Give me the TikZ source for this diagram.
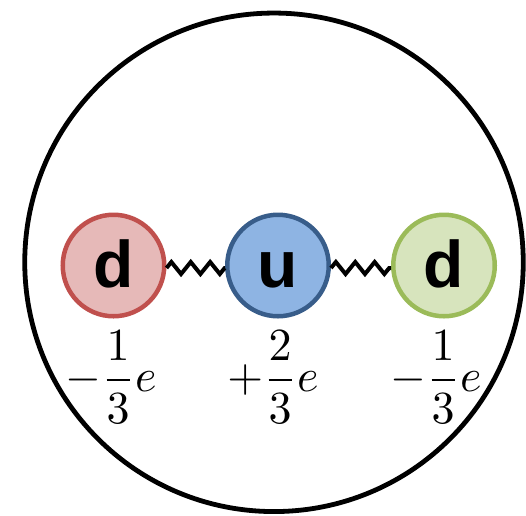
\documentclass[tikz,border=0pt]{standalone}
\usepackage{fontspec}
\newfontfamily\quarkfont{Liberation Sans}
\usetikzlibrary{decorations.pathmorphing}
\definecolor{redfill}{HTML}{E6B9B8}
\definecolor{redline}{HTML}{C0504D}
\definecolor{bluefill}{HTML}{8EB4E3}
\definecolor{blueline}{HTML}{385D8A}
\definecolor{greenfill}{HTML}{D7E4BD}
\definecolor{greenline}{HTML}{9BBB59}
\newcommand{\chargetext}[1]{\scalebox{4.6}{$\displaystyle #1$}}
\begin{document}
\begin{tikzpicture}[x=1pt,y=-1pt,
  quark/.style={circle, draw, line width=4.5pt, minimum size=101.5pt, inner sep=0pt,
    font=\quarkfont\bfseries\fontsize{66}{70}\selectfont, text height=44pt, text depth=0pt},
  gluon/.style={line width=4pt, line join=miter, decorate, decoration={zigzag, segment length=19.4pt, amplitude=6pt}},
  charge/.style={anchor=base, inner sep=0pt}]
\useasboundingbox (0,0) rectangle (526,515);
\node[circle, draw, line width=4.8pt, minimum size=498.5pt, inner sep=0pt] (hadron) at (274,262.3) {};
\node[quark, fill=redfill, draw=redline] (d1) at (113.5,265.5) {d};
\node[quark, fill=bluefill, draw=blueline] (u) at (278,265.5) {u};
\node[quark, fill=greenfill, draw=greenline] (d2) at (444,265.5) {d};
\draw[gluon] ([yshift=-2.5pt]d1.east) -- ([yshift=-2.5pt]u.west);
\draw[gluon] ([yshift=-2.5pt]u.east) -- ([yshift=-2.5pt]d2.west);
\node[charge] (q1) at (111,391.5) {\chargetext{-\frac{1}{3}e}};
\node[charge] (q2) at (273,391.5) {\chargetext{+\frac{2}{3}e}};
\node[charge] (q3) at (436,391.5) {\chargetext{-\frac{1}{3}e}};
\end{tikzpicture}
\end{document}
